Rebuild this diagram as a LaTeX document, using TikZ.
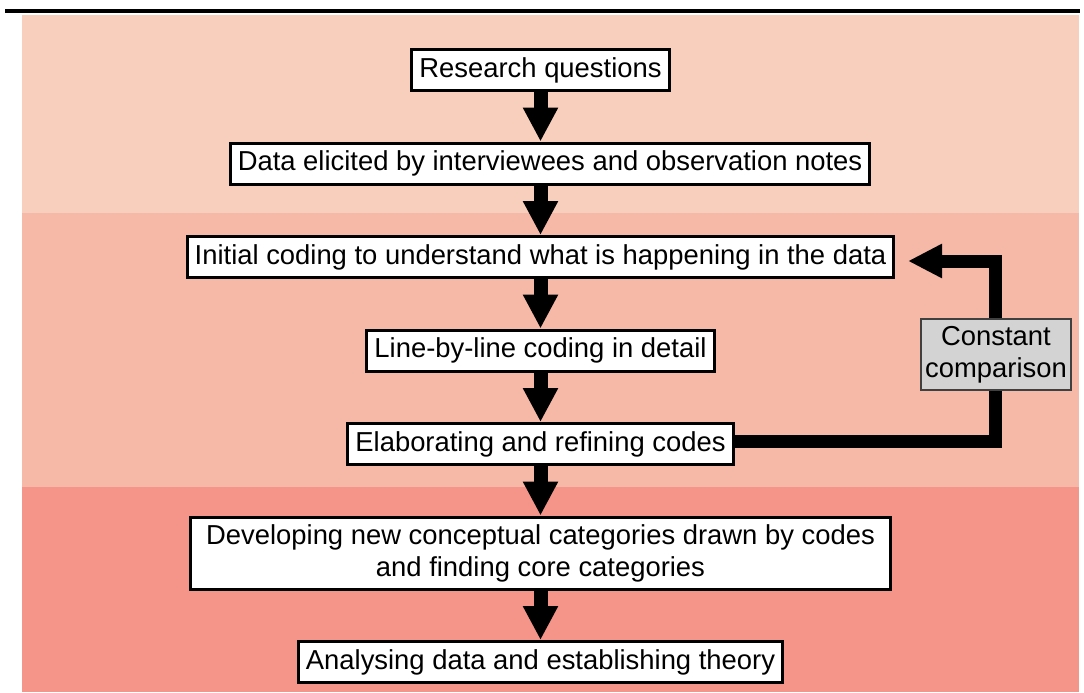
\documentclass[tikz,border=0pt]{standalone}
\usepackage{fontspec}
\setmainfont{Liberation Sans}
\usetikzlibrary{positioning,arrows.meta}
\definecolor{bandtop}{HTML}{F8CFBD}
\definecolor{bandmid}{HTML}{F6B8A7}
\definecolor{bandlow}{HTML}{F5958A}
\definecolor{cmpgray}{HTML}{D3D3D3}
\begin{document}
\begin{tikzpicture}[x=1pt, y=-1pt, node distance=49.5pt,
  stagebox/.style={draw, line width=3pt, fill=white, minimum height=41pt,
    inner xsep=7.5pt, inner ysep=5pt, align=center,
    font=\fontsize{27.4}{32}\selectfont},
  bigarrow/.style={line width=14pt, -{Triangle[length=34pt, width=33pt]}},
  loopline/.style={line width=13pt, line join=miter,
    -{Triangle[length=34pt, width=32pt]}}]
\useasboundingbox (0,0) rectangle (1084,693);
% background bands
\fill[bandtop] (22,15) rectangle (1079,213);
\fill[bandmid] (22,213) rectangle (1079,487);
\fill[bandlow] (22,487) rectangle (1079,692);
\fill (5,9) rectangle (1080,13);
% steps
\node (1)[stagebox] at (540.5,70) {Research questions};
\node (2)[stagebox] [below=of 1, xshift=9.5pt] {Data elicited by interviewees and observation notes};
\node (3)[stagebox] [below=of 2, xshift=-9.5pt] {Initial coding to understand what is happening in the data};
\node (4)[stagebox] [below=of 3] {Line-by-line coding in detail};
\node (5)[stagebox] [below=of 4] {Elaborating and refining codes};
\node (6)[stagebox, minimum height=72pt, inner xsep=16pt] [below=of 5] {Developing new conceptual categories drawn by codes\\and finding core categories};
\node (7)[stagebox] [below=of 6] {Analysing data and establishing theory};
\draw[bigarrow] (1) -- (1.south |- 2.north);
\draw[bigarrow] (2.south -| 1) -- (3);
\draw[bigarrow] (3) -- (4);
\draw[bigarrow] (4) -- (5);
\draw[bigarrow] (5) -- (6);
\draw[bigarrow] (6) -- (7);
% feedback loop
\coordinate (c) at (995,261);
\coordinate (9) at (908,261);
\draw[loopline] ([yshift=3pt]5.east) -| (c) -- (9);
\node (8)[draw=black!75, line width=1.5pt, fill=cmpgray, minimum width=150pt,
  minimum height=71pt, align=center, font=\fontsize{27.4}{32}\selectfont]
  at (996,354.5) {Constant\\comparison};
\end{tikzpicture}
\end{document}
